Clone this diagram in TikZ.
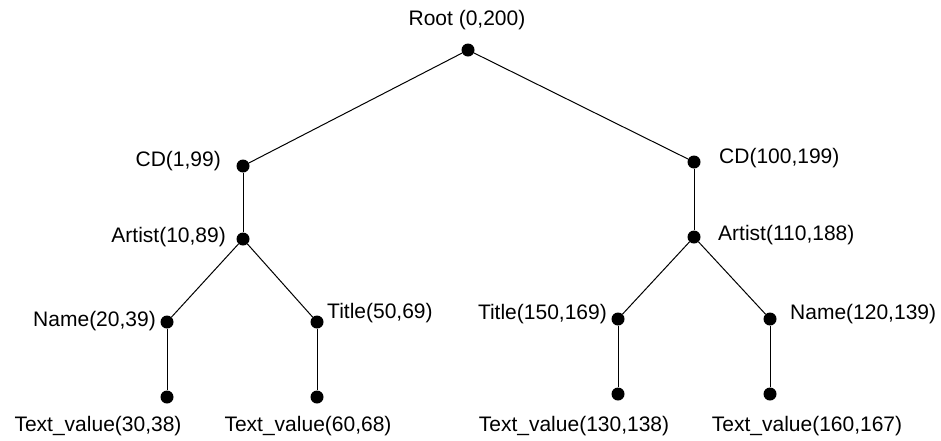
\documentclass[tikz,border=0pt]{standalone}
\usepackage{fontspec}
\setmainfont{Liberation Sans}
\begin{document}
\begin{tikzpicture}[x=1pt,y=-1pt,
  dot/.style={circle,fill=black,inner sep=0pt,minimum size=13pt},
  lbl/.style={inner sep=0pt,font=\fontsize{21}{24}\selectfont},
  edge/.style={line width=1pt}]
\useasboundingbox (0,0) rectangle (941,440);
% dots
\node[dot] (root) at (468,50) {};
\node[dot] (cd1) at (243,166) {};
\node[dot] (cd2) at (694,162) {};
\node[dot] (ar1) at (243,239) {};
\node[dot] (ar2) at (694,237) {};
\node[dot] (nm1) at (167,322) {};
\node[dot] (ti1) at (317,322) {};
\node[dot] (ti2) at (618,319) {};
\node[dot] (nm2) at (770,319) {};
\node[dot] (tv1) at (167,397) {};
\node[dot] (tv2) at (317,397) {};
\node[dot] (tv3) at (618,394) {};
\node[dot] (tv4) at (770,394) {};
% edges
\draw[edge] (root) -- (cd1);
\draw[edge] (root) -- (cd2);
\draw[edge] (cd1) -- (ar1);
\draw[edge] (cd2) -- (ar2);
\draw[edge] (ar1) -- (nm1);
\draw[edge] (ar1) -- (ti1);
\draw[edge] (ar2) -- (ti2);
\draw[edge] (ar2) -- (nm2);
\draw[edge] (nm1) -- (tv1);
\draw[edge] (ti1) -- (tv2);
\draw[edge] (ti2) -- (tv3);
\draw[edge] (nm2) -- (tv4);
% labels
\node[lbl] (lroot) at (467,20) {Root (0,200)};
\node[lbl,anchor=east] (lcd1) at (221,161) {CD(1,99)};
\node[lbl,anchor=west] (lcd2) at (719,158) {CD(100,199)};
\node[lbl,anchor=east] (lar1) at (226,237) {Artist(10,89)};
\node[lbl,anchor=west] (lar2) at (718,235) {Artist(110,188)};
\node[lbl,anchor=east] (lnm1) at (156,321) {Name(20,39)};
\node[lbl,anchor=west] (lti1) at (327,313) {Title(50,69)};
\node[lbl,anchor=east] (lti2) at (607,314) {Title(150,169)};
\node[lbl,anchor=west] (lnm2) at (790,314) {Name(120,139)};
\node[lbl] (ltv1) at (98,426) {Text\_value(30,38)};
\node[lbl] (ltv2) at (308,426) {Text\_value(60,68)};
\node[lbl] (ltv3) at (574,426) {Text\_value(130,138)};
\node[lbl] (ltv4) at (807,426) {Text\_value(160,167)};
\end{tikzpicture}
\end{document}
